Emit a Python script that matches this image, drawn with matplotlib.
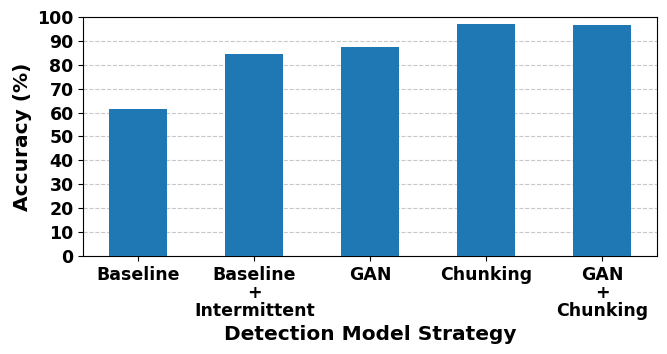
import numpy as np
import matplotlib.pyplot as plt

# Стратегії та точність
strategies = ["Baseline", "Baseline\n+\nIntermittent", "GAN", "Chunking", "GAN\n+\nChunking"]
accuracy = [61.3, 84.4, 87.4, 96.9, 96.5]

fig, ax = plt.subplots(figsize=(6.67, 3.54), dpi=100)
x = np.arange(len(strategies))
ax.bar(x, accuracy, width=0.5, color="#1f77b4", zorder=3)

ax.set_ylim(0, 100)
ax.set_yticks(np.arange(0, 101, 10))
ax.set_xticks(x)
ax.set_xticklabels(strategies, fontsize=12.5, fontweight="bold", linespacing=1.0)
for lbl in ax.get_yticklabels():
    lbl.set_fontsize(12.5)
    lbl.set_fontweight("bold")
ax.yaxis.grid(True, linestyle="--", color="#c8c8c8", zorder=0)
ax.set_axisbelow(True)

ax.set_xlabel("Detection Model Strategy", fontsize=14.5, fontweight="bold", labelpad=4)
ax.set_ylabel("Accuracy (%)", fontsize=14.5, fontweight="bold")

fig.subplots_adjust(left=0.125, right=0.985, top=0.952, bottom=0.277)
fig.savefig("out.png")
